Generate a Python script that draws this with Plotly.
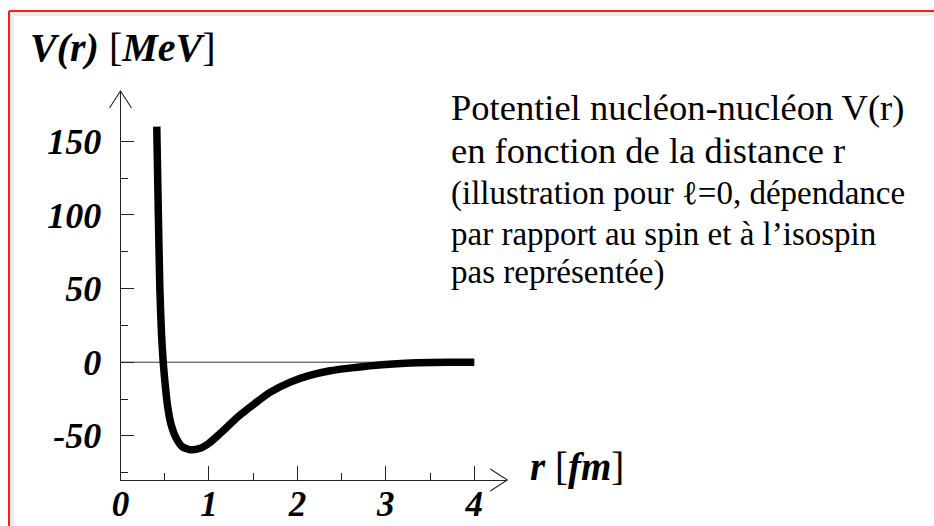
import plotly.graph_objects as go

# ---- data ----
r_fm = [0.410, 0.428, 0.445, 0.463, 0.483, 0.505, 0.533, 0.57, 0.63, 0.70, 0.80, 0.90,
        1.0, 1.125, 1.35, 1.69, 1.92, 2.14, 2.37, 2.59, 2.82, 3.08, 3.35, 3.7, 4.0]
V_MeV = [160, 100, 50, 20, 0, -15, -30, -42, -51.6, -57.5, -59.5, -58.5,
         -55, -48.5, -36, -20.5, -13.5, -9, -5.8, -4.0, -2.5, -1.2, -0.4, -0.1, 0]

x_major = [0, 1, 2, 3, 4]
x_minor = [0.5, 1.5, 2.5, 3.5]
y_major = [-50, 0, 50, 100, 150]
y_minor = [-75, -25, 25, 75, 125]

title_y = "<b><i>V(r)</i></b> [<b><i>MeV</i></b>]"
title_x = "<b><i>r</i></b> [<b><i>fm</i></b>]"
note_big = ["Potentiel nucléon-nucléon V(r)", "en fonction de la distance r"]
note_small = ["(illustration pour ℓ=0, dépendance",
              "par rapport au spin et à l’isospin",
              "pas représentée)"]

# ---- layout geometry (pixels) ----
W, H = 934, 526
x0px, xendpx = 120.5, 507.3
ybotpx, ytoppx = 480, 91
x_range = [0, 4.373]
y_range = [-80, 184.2]

SERIF = "Liberation Serif, Times New Roman, serif"

def px(x):
    return x / W

def py(y):
    return 1 - y / H

fig = go.Figure()
fig.add_trace(go.Scatter(x=r_fm, y=V_MeV, mode="lines",
                         line=dict(color="black", width=7.5, shape="spline", smoothing=0.6),
                         hoverinfo="skip", showlegend=False))

ytickfont = dict(family=SERIF, size=36, color="black", weight="bold", style="italic")
xtickfont = dict(family=SERIF, size=35, color="black", weight="bold", style="italic")

fig.update_layout(
    width=W, height=H, template="none",
    margin=dict(l=0, r=0, t=0, b=0),
    paper_bgcolor="white", plot_bgcolor="white",
    showlegend=False,
    xaxis=dict(domain=[px(x0px), px(xendpx)], range=x_range, fixedrange=True,
               showgrid=False, zeroline=False, automargin=False,
               showline=True, linecolor="#222", linewidth=1.3,
               tickmode="array", tickvals=x_major, ticktext=[str(v) for v in x_major],
               ticks="inside", ticklen=14, tickwidth=1.2, tickcolor="#222",
               ticklabelstandoff=-7, tickfont=xtickfont,
               minor=dict(tickvals=x_minor, ticks="inside", ticklen=7,
                          tickwidth=1.2, tickcolor="#222", showgrid=False)),
    yaxis=dict(domain=[py(ybotpx), py(ytoppx)], range=y_range, fixedrange=True,
               showgrid=False, zeroline=False, automargin=False,
               showline=True, linecolor="#222", linewidth=1.1,
               tickmode="array", tickvals=y_major, ticktext=[str(v) for v in y_major],
               ticks="inside", ticklen=13, tickwidth=1.1, tickcolor="#222",
               ticklabelstandoff=11, tickfont=ytickfont,
               minor=dict(tickvals=y_minor, ticks="inside", ticklen=7,
                          tickwidth=1.1, tickcolor="#222", showgrid=False)),
)

shapes = []
# zero line
shapes.append(dict(type="line", xref="x", yref="y", x0=0, x1=4, y0=0, y1=0,
                   line=dict(color="#333", width=1), layer="below"))
# arrowheads (open chevrons) at the axis ends (paper refs so they are not clipped)
shapes.append(dict(type="path", xref="paper", yref="paper", xsizemode="pixel", ysizemode="pixel",
                   xanchor=px(xendpx), yanchor=py(ybotpx),
                   path="M -17 11 L 0 0 L -17 -11", line=dict(color="#222", width=1.1)))
shapes.append(dict(type="path", xref="paper", yref="paper", xsizemode="pixel", ysizemode="pixel",
                   xanchor=px(x0px), yanchor=py(ytoppx),
                   path="M -11 -17 L 0 0 L 11 -17", line=dict(color="#222", width=1.1)))
# frame: grey shadow + red border
shapes.append(dict(type="line", xref="paper", yref="paper", x0=px(10), x1=1,
                   y0=py(14), y1=py(14), line=dict(color="#ebebeb", width=4)))
shapes.append(dict(type="line", xref="paper", yref="paper", x0=px(12), x1=px(12),
                   y0=py(12), y1=0, line=dict(color="#ebebeb", width=4)))
shapes.append(dict(type="line", xref="paper", yref="paper", x0=px(9), x1=1,
                   y0=py(11), y1=py(11), line=dict(color="#ff1a1a", width=2)))
shapes.append(dict(type="line", xref="paper", yref="paper", x0=px(9), x1=px(9),
                   y0=py(11), y1=0, line=dict(color="#ff1a1a", width=2)))
fig.update_layout(shapes=shapes)

ann = []
ann.append(dict(text=title_y, xref="paper", yref="paper", x=px(28), y=py(47),
                xanchor="left", yanchor="middle", showarrow=False,
                font=dict(family=SERIF, size=40, color="black")))
ann.append(dict(text=title_x, xref="paper", yref="paper", x=px(528), y=py(467),
                xanchor="left", yanchor="middle", showarrow=False,
                font=dict(family=SERIF, size=39, color="black")))
big_mid = [108, 151]
small_mid = [194, 234, 272]
for t, yy in zip(note_big, big_mid):
    ann.append(dict(text=t, xref="paper", yref="paper", x=px(449), y=py(yy),
                    xanchor="left", yanchor="middle", showarrow=False,
                    font=dict(family=SERIF, size=36.5, color="black")))
for t, yy in zip(note_small, small_mid):
    ann.append(dict(text=t, xref="paper", yref="paper", x=px(449), y=py(yy),
                    xanchor="left", yanchor="middle", showarrow=False,
                    font=dict(family=SERIF, size=33, color="black")))
fig.update_layout(annotations=ann)

fig.write_html("out.html", config={"displayModeBar": False},
               post_script="document.body.style.margin='0';document.body.style.padding='0';")
